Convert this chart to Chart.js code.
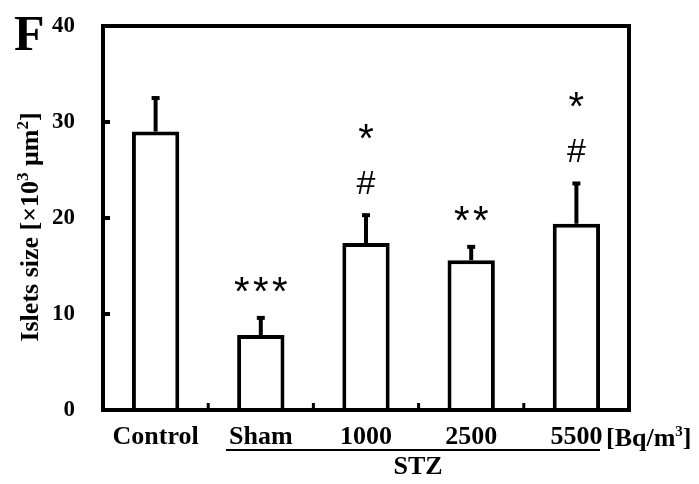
<!DOCTYPE html>
<html>
<head>
<meta charset="utf-8">
<script src="https://cdn.jsdelivr.net/npm/chart.js@4"></script>
<style>
html,body{margin:0;padding:0;background:#fff;}
#wrap{width:699px;height:484px;position:relative;}
</style>
</head>
<body>
<div id="wrap"><canvas id="c" width="699" height="484"></canvas></div>
<script>
const categories = ['Control', 'Sham', '1000', '2500', '5500'];
const means = [29.0, 7.8, 17.4, 15.6, 19.4];
const errors = [3.6, 1.9, 3.0, 1.5, 4.3];
const marks = [[], ['***'], ['#', '*'], ['**'], ['#', '*']];
const yTicks = [0, 10, 20, 30, 40];
const yTitleParts = [['Islets size [×10', false], ['3', true], [' μm', false], ['2', true], [']', false]];
const unitParts = [['[Bq/m', false], ['3', true], [']', false]];
const groupLabel = 'STZ';
const panelLetter = 'F';

const SERIF = '"Liberation Serif", "Times New Roman", serif';
const SANS = '"Liberation Sans", Arial, sans-serif';

function richWidth(ctx, parts, size, supSize) {
  let w = 0;
  parts.forEach(([t, sup]) => {
    ctx.font = 'bold ' + (sup ? supSize : size) + 'px ' + SERIF;
    w += ctx.measureText(t).width;
  });
  return w;
}
function drawRich(ctx, parts, x, y, size, supSize, rise) {
  let cx = x;
  ctx.textAlign = 'left';
  ctx.textBaseline = 'alphabetic';
  parts.forEach(([t, sup]) => {
    ctx.font = 'bold ' + (sup ? supSize : size) + 'px ' + SERIF;
    ctx.fillText(t, cx, sup ? y - rise : y);
    cx += ctx.measureText(t).width;
  });
}

const extras = {
  id: 'extras',
  afterDatasetsDraw(chart) {
    const ctx = chart.ctx;
    const x = chart.scales.x, y = chart.scales.y;
    const a = chart.chartArea;
    ctx.save();
    ctx.strokeStyle = '#000';
    ctx.fillStyle = '#000';
    ctx.lineWidth = 4;
    ctx.lineCap = 'square';
    ctx.beginPath();
    ctx.moveTo(a.left, a.bottom);
    ctx.lineTo(a.left, a.top);
    ctx.lineTo(a.right, a.top);
    ctx.lineTo(a.right, a.bottom);
    ctx.lineTo(a.left, a.bottom);
    ctx.stroke();
    ctx.lineCap = 'butt';
    yTicks.forEach(v => {
      if (v === 0 || v === 40) return;
      const py = y.getPixelForValue(v);
      ctx.beginPath();
      ctx.moveTo(a.left, py);
      ctx.lineTo(a.left + 7, py);
      ctx.stroke();
    });
    ctx.lineWidth = 3;
    for (let i = 1; i < categories.length; i++) {
      const px = (x.getPixelForValue(i - 1) + x.getPixelForValue(i)) / 2;
      ctx.beginPath();
      ctx.moveTo(px, a.bottom);
      ctx.lineTo(px, a.bottom - 7);
      ctx.stroke();
    }
    const meta = chart.getDatasetMeta(0);
    ctx.lineWidth = 4;
    means.forEach((m, i) => {
      const bx = meta.data[i].x;
      const top = y.getPixelForValue(m + errors[i]);
      const base = y.getPixelForValue(m);
      ctx.beginPath();
      ctx.moveTo(bx, base);
      ctx.lineTo(bx, top);
      ctx.stroke();
      ctx.beginPath();
      ctx.moveTo(bx - 4, top + 1);
      ctx.lineTo(bx + 4, top + 1);
      ctx.stroke();
    });
    ctx.textAlign = 'center';
    ctx.textBaseline = 'alphabetic';
    marks.forEach((list, i) => {
      const bx = meta.data[i].x;
      const top = y.getPixelForValue(means[i] + errors[i]);
      list.forEach((s, k) => {
        const cy = top - 32 - k * 51;
        if (s[0] === '*') {
          ctx.font = '40px ' + SANS;
          const m1 = ctx.measureText('*');
          const o1 = (m1.actualBoundingBoxAscent - m1.actualBoundingBoxDescent) / 2;
          const gap = 19;
          for (let j = 0; j < s.length; j++) {
            const sx = bx + (j - (s.length - 1) / 2) * gap;
            ctx.fillText('*', sx, cy + o1);
          }
        } else {
          ctx.font = '34px ' + SANS;
          const mt = ctx.measureText(s);
          const off = (mt.actualBoundingBoxAscent - mt.actualBoundingBoxDescent) / 2;
          ctx.fillText(s, bx, cy + off);
        }
      });
    });
    ctx.lineWidth = 2;
    ctx.beginPath();
    ctx.moveTo(226, 450);
    ctx.lineTo(600, 450);
    ctx.stroke();
    ctx.font = 'bold 26px ' + SERIF;
    ctx.textAlign = 'center';
    ctx.textBaseline = 'alphabetic';
    ctx.fillText(groupLabel, 418, 474);
    drawRich(ctx, unitParts, 606, 446, 26, 15, 10);
    const tw = richWidth(ctx, yTitleParts, 26, 17);
    ctx.save();
    ctx.translate(38, 227);
    ctx.rotate(-Math.PI / 2);
    drawRich(ctx, yTitleParts, -tw / 2, 0, 26, 17, 10);
    ctx.restore();
    ctx.font = 'bold 50px ' + SERIF;
    ctx.textAlign = 'left';
    ctx.textBaseline = 'alphabetic';
    ctx.fillText(panelLetter, 14, 50);
    ctx.restore();
  }
};

new Chart(document.getElementById('c'), {
  type: 'bar',
  data: {
    labels: categories,
    datasets: [{
      data: means,
      backgroundColor: '#ffffff',
      borderColor: '#000000',
      borderWidth: 4,
      borderSkipped: 'bottom',
      categoryPercentage: 1.0,
      barPercentage: 0.45
    }]
  },
  options: {
    responsive: false,
    animation: false,
    devicePixelRatio: 1,
    layout: { padding: { left: 0, right: 70, top: 26, bottom: 0 } },
    plugins: { legend: { display: false }, tooltip: { enabled: false } },
    scales: {
      x: {
        grid: { display: false },
        border: { display: false },
        ticks: {
          color: '#000',
          font: { family: SERIF, size: 26, weight: 'bold' },
          padding: 4,
          maxRotation: 0,
          autoSkip: false
        },
        afterFit(s) { s.height = 74; s.paddingLeft = 0; s.paddingRight = 0; }
      },
      y: {
        min: 0, max: 40,
        afterBuildTicks(s) { s.ticks = yTicks.map(v => ({ value: v })); },
        grid: { display: false },
        border: { display: false },
        ticks: {
          color: '#000',
          font: { family: SERIF, size: 23, weight: 'bold' },
          padding: 20
        },
        afterFit(s) { s.width = 103; s.paddingTop = 0; s.paddingBottom = 0; }
      }
    }
  },
  plugins: [extras]
});
</script>
</body>
</html>
